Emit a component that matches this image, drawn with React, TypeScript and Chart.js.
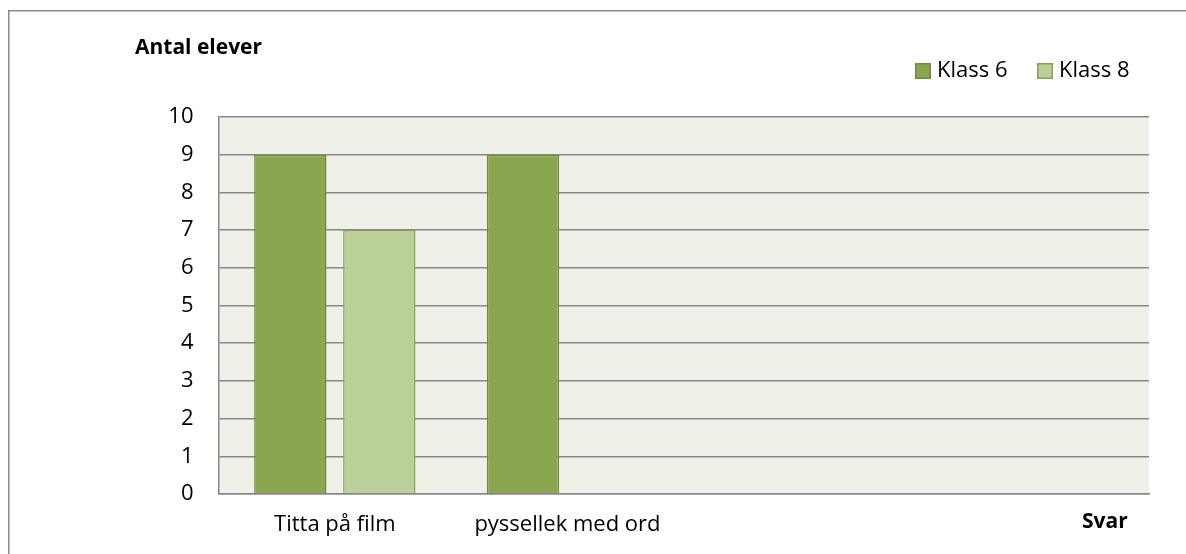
import React, { useEffect, useRef } from "react";
import { Chart, registerables } from "chart.js";

Chart.register(...registerables);

const categories = ["Titta på film", "pyssellek med ord", "", ""];
const klass6 = [9, 9, null, null];
const klass8 = [7, null, null, null];
const seriesNames = ["Klass 6", "Klass 8"];
const yTicks = [0, 1, 2, 3, 4, 5, 6, 7, 8, 9, 10];
const yTitle = "Antal elever";
const xTitle = "Svar";

const FONT = "'Open Sans', Lato, sans-serif";
const FS = 22;
const fill6 = "#8AA64F";
const border6 = "#71893F";
const fill8 = "#BBD098";
const border8 = "#86A055";

const decor = {
  id: "decor",
  beforeDraw(chart: any) {
    const { ctx, chartArea } = chart;
    ctx.save();
    ctx.fillStyle = "#EFF1E9";
    ctx.fillRect(chartArea.left, chartArea.top, chartArea.right - chartArea.left, chartArea.bottom - chartArea.top);
    ctx.restore();
  },
  afterDraw(chart: any) {
    const { ctx } = chart;
    ctx.save();
    // outer frame
    ctx.strokeStyle = "#8A8A8A";
    ctx.lineWidth = 1.5;
    ctx.beginPath();
    ctx.moveTo(8.75, 560);
    ctx.lineTo(8.75, 10.75);
    ctx.lineTo(1190, 10.75);
    ctx.stroke();
    // titles
    ctx.fillStyle = "#000";
    ctx.textBaseline = "middle";
    ctx.font = `bold 21px ${FONT}`;
    ctx.textAlign = "left";
    ctx.fillText(yTitle, 135, 48);
    ctx.fillText(xTitle, 1082, 522);
    // legend
    ctx.font = `${FS}px ${FONT}`;
    const items = [
      { x: 915, tx: 937, fill: fill6, stroke: border6 },
      { x: 1037, tx: 1059, fill: fill8, stroke: border8 },
    ];
    items.forEach((it, i) => {
      ctx.fillStyle = it.fill;
      ctx.fillRect(it.x, 63, 16, 16);
      ctx.strokeStyle = it.stroke;
      ctx.lineWidth = 1.5;
      ctx.strokeRect(it.x + 0.75, 63.75, 14.5, 14.5);
      ctx.fillStyle = "#000";
      ctx.fillText(seriesNames[i], it.tx, 71);
    });
    ctx.restore();
  },
};

export default function App() {
  const ref = useRef<HTMLCanvasElement>(null);
  useEffect(() => {
    if (!ref.current) return;
    const chart = new Chart(ref.current, {
      type: "bar",
      data: {
        labels: categories,
        datasets: [
          {
            label: seriesNames[0],
            data: klass6,
            backgroundColor: fill6,
            borderColor: border6,
            borderWidth: 1.5,
            categoryPercentage: 0.765,
            barPercentage: 0.813,
          },
          {
            label: seriesNames[1],
            data: klass8,
            backgroundColor: fill8,
            borderColor: border8,
            borderWidth: 1.5,
            categoryPercentage: 0.765,
            barPercentage: 0.813,
          },
        ],
      },
      options: {
        responsive: false,
        animation: false,
        layout: { padding: { left: 0, top: 117, right: 37, bottom: 0 } },
        plugins: { legend: { display: false }, tooltip: { enabled: false } },
        scales: {
          x: {
            grid: { display: false, drawTicks: false },
            border: { display: true, color: "#878787", width: 1.5 },
            ticks: { color: "#000", font: { family: FONT, size: FS }, padding: 18, maxRotation: 0 },
            afterFit(scale: any) {
              scale.height = 60;
            },
          },
          y: {
            min: 0,
            max: 10,
            afterBuildTicks(scale: any) {
              scale.ticks = yTicks.map((v) => ({ value: v }));
            },
            grid: { color: "#878787", lineWidth: 1.5, drawTicks: false },
            border: { display: true, color: "#878787", width: 1.5 },
            ticks: { color: "#000", font: { family: FONT, size: FS }, padding: 25 },
            afterFit(scale: any) {
              scale.width = 218.5;
            },
          },
        },
      },
      plugins: [decor],
    });
    return () => chart.destroy();
  }, []);
  return (
    <div style={{ position: "absolute", left: 0, top: 0, width: 1186, height: 554 }}>
      <canvas ref={ref} width={1186} height={554} style={{ width: 1186, height: 554, display: "block" }} />
    </div>
  );
}
